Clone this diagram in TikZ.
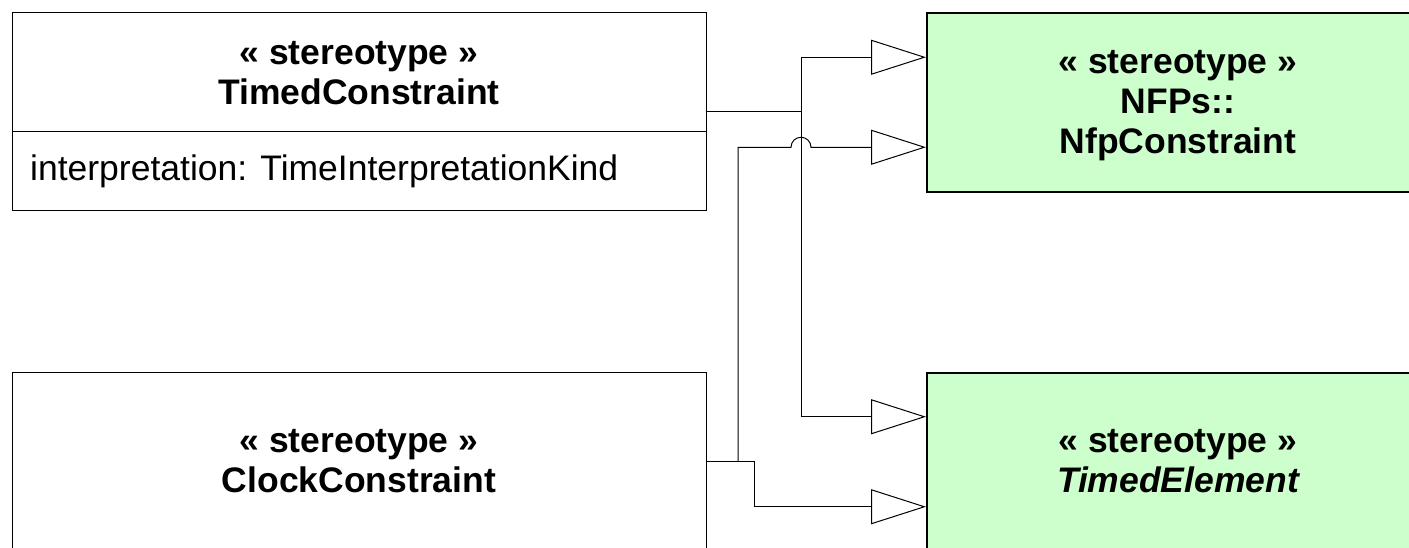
\documentclass[tikz,border=0pt]{standalone}
\usepackage{fontspec}
\setmainfont{Liberation Sans}
\usetikzlibrary{arrows.meta,calc}

\definecolor{stereogreen}{HTML}{CCFFCC}

\begin{document}
\begin{tikzpicture}[x=1pt, y=-1pt,
    classbox/.style={draw, line width=1pt, fill=white, anchor=north west, inner sep=0pt},
    greenbox/.style={classbox, line width=1.5pt, fill=stereogreen},
    label/.style={font=\fontsize{35.5}{40}\selectfont\bfseries, anchor=base, inner sep=0pt},
    attr/.style={font=\fontsize{35.5}{40}\selectfont, anchor=base west, inner sep=0pt},
    gen/.style={line width=1pt, -{Triangle[open, length=55pt, width=35pt]}}]

    \useasboundingbox (0,0) rectangle (1409,547);
    \clip (0,0) rectangle (1409,547);

    % Gap between the stereotype line and the name
    \def\ls{40}

    % Classes on the left
    \node[classbox, minimum width=694pt, minimum height=198pt] (timed) at (12,12) {};
    \draw[line width=1pt] ([yshift=-119pt]timed.north west) -- ([yshift=-119pt]timed.north east);
    \node[label] (timedst) at (359,64) {« stereotype »};
    \node[label] (timedname) at (359,64+\ls) {TimedConstraint};
    \node[attr] (timedattr) at (30,180) {interpretation: TimeInterpretationKind};

    \node[classbox, minimum width=694pt, minimum height=178pt] (clock) at (12,372) {};
    \node[label] (clockst) at (359,452) {« stereotype »};
    \node[label] (clockname) at (359,452+\ls) {ClockConstraint};

    % Stereotypes on the right
    \node[greenbox, minimum width=504pt, minimum height=179pt] (nfp) at (926,12) {};
    \node[label] (nfpst) at (1178,73) {« stereotype »};
    \node[label] (nfppkg) at (1178,73+\ls) {NFPs::};
    \node[label] (nfpname) at (1178,73+2*\ls) {NfpConstraint};

    \node[greenbox, minimum width=504pt, minimum height=178pt] (telem) at (926,372) {};
    \node[label] (telemst) at (1178,452) {« stereotype »};
    \node[label, font=\fontsize{35.5}{40}\selectfont\bfseries\itshape] (telemname) at (1178,452+\ls) {TimedElement};

    % Generalizations
    \coordinate (nfpup) at ([yshift=45pt]nfp.west);
    \coordinate (nfpdown) at ([yshift=-45pt]nfp.west);
    \coordinate (telemup) at ([yshift=45pt]telem.west);
    \coordinate (telemdown) at ([yshift=-45pt]telem.west);

    \draw[gen] (timed.east) -- ++(94,0) coordinate (tcjoin) |- (nfpup);
    \draw[gen] (tcjoin) |- (telemup);

    \draw[line width=1pt] (clock.east) -- ++(31,0) coordinate (ccjoin);
    \draw[gen] (ccjoin) |- ($(tcjoin |- nfpdown)+(-10,0)$)
        arc[start angle=180, end angle=0, radius=10pt] -- (nfpdown);
    \draw[gen] (ccjoin) -- ++(16,0) |- (telemdown);

\end{tikzpicture}
\end{document}
